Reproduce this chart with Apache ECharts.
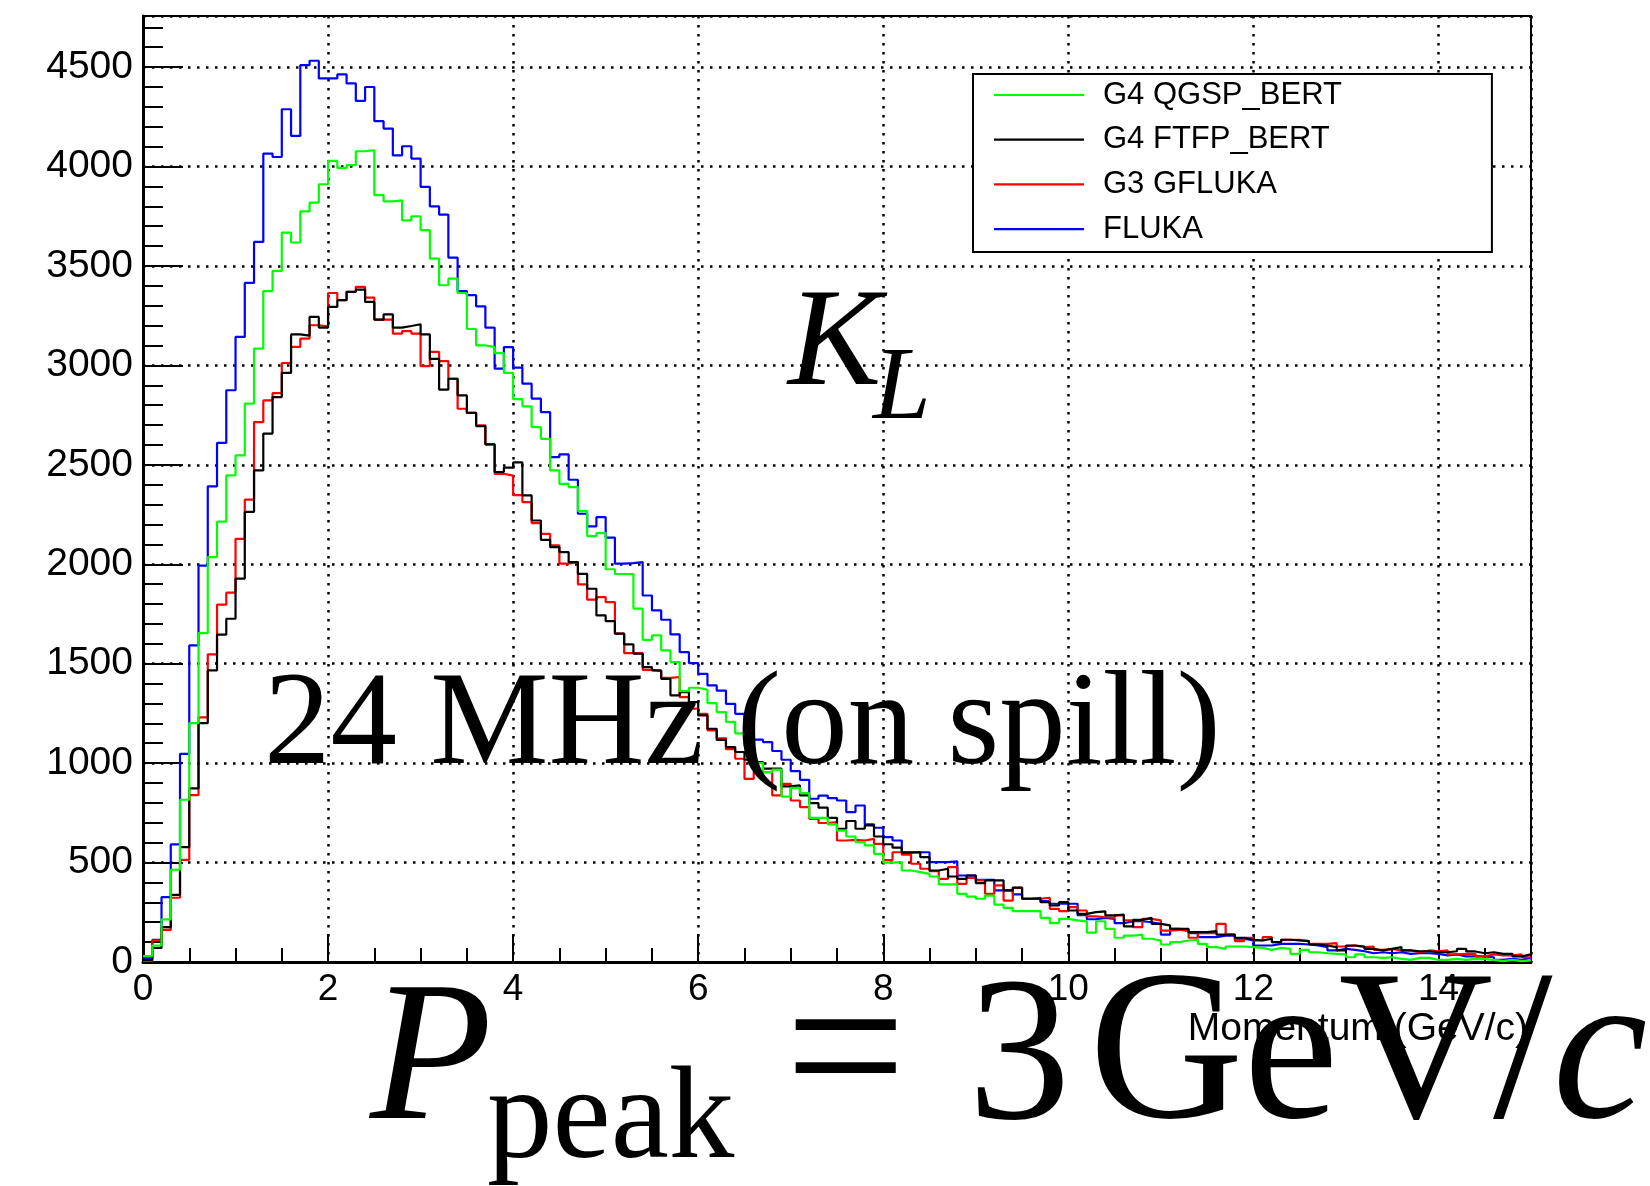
<!DOCTYPE html>
<html><head><meta charset="utf-8">
<script src="https://cdn.jsdelivr.net/npm/echarts@6/dist/echarts.min.js"></script>
<style>html,body{margin:0;padding:0;background:#fff}#c{width:1650px;height:1186px}</style>
</head><body><div id="c"></div>
<script>
const BIN_WIDTH = 0.1;
const X_MIN = 0, X_MAX = 15, X_MAJOR = 2, X_MINOR = 0.5;
const Y_MIN = 0, Y_MAX = 4757, Y_MAJOR = 500, Y_MINOR = 100;
const seriesNames = ['G4 QGSP_BERT', 'G4 FTFP_BERT', 'G3 GFLUKA', 'FLUKA'];
const seriesColors = ['#00ff00', '#000000', '#ff0000', '#0000ff'];

const qgspBert = [30,83,214,464,816,1201,1654,2036,2214,2447,2548,2808,3084,3374,3475,3668,3618,3775,3819,3911,
4028,3993,4007,4077,4082,3856,3825,3830,3729,3750,3680,3537,3403,3436,3364,3183,3101,3092,3062,2962,
2830,2794,2690,2631,2472,2404,2388,2267,2142,2157,1975,1951,1951,1777,1620,1642,1567,1508,1362,1379,
1369,1302,1257,1207,1150,1089,1000,955,967,832,876,849,725,725,692,661,631,603,586,544,
500,502,460,452,443,430,390,390,343,329,318,334,289,272,256,256,256,222,195,217,
209,204,148,205,167,122,133,138,117,108,88,100,108,112,91,75,66,78,78,75,
71,61,71,66,41,61,49,44,41,38,24,38,24,21,24,16,11,21,21,11,
11,16,11,16,14,11,4,11,4,8];

const ftfpBert = [10,71,175,338,578,873,1201,1466,1646,1726,1928,2263,2472,2657,2841,2962,3156,3150,3244,3190,
3294,3328,3370,3381,3319,3230,3257,3190,3198,3207,3156,3033,2878,2933,2849,2761,2695,2603,2464,2486,
2512,2346,2220,2123,2086,2061,2011,1952,1877,1743,1714,1651,1597,1550,1483,1466,1424,1341,1357,1307,
1240,1173,1117,1081,1056,1017,1005,972,972,883,888,838,799,776,725,670,709,670,687,631,
592,575,550,552,527,460,469,430,418,435,397,410,410,360,374,318,318,301,284,301,
259,242,251,255,234,239,179,212,222,192,184,167,167,150,150,155,138,138,122,112,
108,117,100,112,108,105,88,83,75,58,83,78,66,58,66,75,58,54,54,49,
49,54,66,53,44,49,41,41,28,38];

const gFluka = [5,108,162,323,514,839,1230,1547,1797,1857,2128,2325,2715,2824,2861,3012,3093,3135,3202,3197,
3364,3328,3370,3395,3341,3230,3230,3160,3172,3160,2996,3068,3022,2933,2782,2761,2698,2603,2455,2446,
2348,2313,2207,2153,2095,2003,2011,1899,1822,1835,1810,1651,1553,1553,1469,1463,1429,1433,1332,1274,
1248,1165,1125,1070,1022,921,955,955,838,896,812,779,720,699,703,611,614,611,619,594,
512,552,540,494,469,457,418,477,393,423,410,343,385,309,373,318,318,323,267,256,
276,259,229,225,222,234,209,175,217,209,158,162,155,122,145,145,192,138,105,122,
108,125,100,112,112,105,91,91,95,78,83,75,78,61,66,58,58,49,58,54,
58,38,41,41,28,38,33,33,38,24];

const fluka = [20,111,326,591,1047,1592,1993,2392,2610,2875,3143,3415,3621,4065,4048,4288,4154,4510,4532,4443,
4443,4463,4418,4330,4400,4228,4191,4056,4102,4040,3898,3800,3758,3542,3374,3353,3297,3190,2984,3092,
2989,2908,2833,2765,2539,2553,2425,2254,2191,2237,2134,2003,2006,2011,1843,1768,1721,1647,1558,1503,
1449,1391,1365,1298,1248,1190,1118,1106,1061,1017,960,916,821,837,824,812,754,787,692,675,
628,611,552,552,552,502,502,506,435,435,413,413,360,360,340,318,323,306,293,293,
293,235,215,222,217,195,205,205,200,192,138,167,158,145,125,125,133,133,117,108,
83,83,91,91,91,88,83,75,58,66,61,54,44,49,44,49,41,44,44,41,
33,38,28,28,28,24,11,16,11,21];

const seriesValues = [qgspBert, ftfpBert, gFluka, fluka];

function toSteps(vals) {
  const d = vals.map((v, i) => [Math.round(i * BIN_WIDTH * 1000) / 1000, v]);
  d.push([X_MAX, vals[vals.length - 1]]);
  return d;
}

const chart = echarts.init(document.getElementById('c'), null, {renderer: 'canvas'});
const SANS = '"Liberation Sans", Arial, Helvetica, sans-serif';
const SERIF = '"Liberation Serif", "Times New Roman", serif';
const gridDots = {show: true, lineStyle: {color: '#000', width: 2.5, type: [2.5, 6.5]}};

// draw order: blue, red, black, green (green on top)
const drawOrder = [3, 2, 1, 0];
const series = drawOrder.map(k => ({
  name: seriesNames[k],
  type: 'line',
  step: 'end',
  symbol: 'none',
  data: toSteps(seriesValues[k]),
  xAxisIndex: 0, yAxisIndex: 0,
  lineStyle: {color: seriesColors[k], width: 2.2},
  itemStyle: {color: seriesColors[k]},
  z: 3
}));

chart.setOption({
  animation: false,
  backgroundColor: '#fff',
  grid: {left: 143, right: 119, top: 16, bottom: 224, show: true, borderColor: '#000', borderWidth: 2, containLabel: false},
  legend: {
    data: seriesNames, orient: 'vertical', left: 973, top: 74,
    icon: 'rect',
    padding: [5, 150, 7, 21], itemGap: 12.7, itemWidth: 90, itemHeight: 2.2,
    textStyle: {fontSize: 31, fontFamily: SANS, color: '#000', lineHeight: 32, padding: [0, 0, 0, 14]},
    borderColor: '#000', borderWidth: 2, backgroundColor: '#fff', z: 10
  },
  xAxis: [
    {type: 'value', min: X_MIN, max: X_MAX, interval: X_MAJOR, position: 'bottom',
     axisLine: {show: true, onZero: false, lineStyle: {color: '#000', width: 3}},
     axisTick: {show: true, inside: true, length: 28, lineStyle: {color: '#000', width: 2}},
     axisLabel: {show: true, margin: 9, showMaxLabel: false, fontSize: 37, fontFamily: SANS, color: '#000',
       formatter: v => String(v)},
     splitLine: gridDots},
    {type: 'value', min: X_MIN, max: X_MAX, interval: X_MINOR, position: 'bottom',
     axisLine: {show: false}, axisLabel: {show: false}, splitLine: {show: false},
     axisTick: {show: true, inside: true, length: 14, lineStyle: {color: '#000', width: 2}}}
  ],
  yAxis: [
    {type: 'value', min: Y_MIN, max: Y_MAX, interval: Y_MAJOR, position: 'left',
     axisLine: {show: true, onZero: false, lineStyle: {color: '#000', width: 3}},
     axisTick: {show: true, inside: true, length: 40, lineStyle: {color: '#000', width: 2}},
     axisLabel: {show: true, margin: 10, showMaxLabel: false, fontSize: 39, fontFamily: SANS, color: '#000',
       formatter: v => String(v)},
     splitLine: gridDots},
    {type: 'value', min: Y_MIN, max: Y_MAX, interval: Y_MINOR, position: 'left',
     axisLine: {show: false}, axisLabel: {show: false}, splitLine: {show: false},
     axisTick: {show: true, inside: true, length: 20, lineStyle: {color: '#000', width: 2}}}
  ],
  series: series,
  graphic: [
    {type: 'text', x: 1528, y: 1029, z: 20,
     style: {text: 'Momentum (GeV/c)', font: '39px ' + SANS, fill: '#000', align: 'right', verticalAlign: 'middle'}},
    {type: 'text', x: 788, y: 347, z: 20,
     style: {text: 'K', font: 'italic 140px ' + SERIF, fill: '#000', align: 'left', verticalAlign: 'middle'}},
    {type: 'text', x: 873, y: 391, z: 20,
     style: {text: 'L', font: 'italic 104px ' + SERIF, fill: '#000', align: 'left', verticalAlign: 'middle'}},
    {type: 'text', x: 264, y: 728, z: 20,
     style: {text: '24 MHz (on spill)', font: '133px ' + SERIF, fill: '#000', align: 'left', verticalAlign: 'middle'}},
    {type: 'text', x: 370, y: 1065, z: 20,
     style: {text: 'P', font: 'italic 200px ' + SERIF, fill: '#000', align: 'left', verticalAlign: 'middle'}},
    {type: 'text', x: 487, y: 1123, z: 20,
     style: {text: 'peak', font: '131px ' + SERIF, fill: '#000', align: 'left', verticalAlign: 'middle'}},
    {type: 'text', x: 785, y: 1061, z: 20,
     style: {text: '=', font: '215px ' + SERIF, fill: '#000', align: 'left', verticalAlign: 'middle'}},
    {type: 'text', x: 968, y: 1064, z: 20,
     style: {text: '3', font: '205px ' + SERIF, fill: '#000', align: 'left', verticalAlign: 'middle'}},
    {type: 'text', x: 1089, y: 1061, z: 20,
     style: {text: 'GeV/{i|c}', font: '214px ' + SERIF, fill: '#000', align: 'left', verticalAlign: 'middle',
       rich: {i: {font: 'italic 214px ' + SERIF, fill: '#000'}}}}
  ]
});
</script></body></html>
